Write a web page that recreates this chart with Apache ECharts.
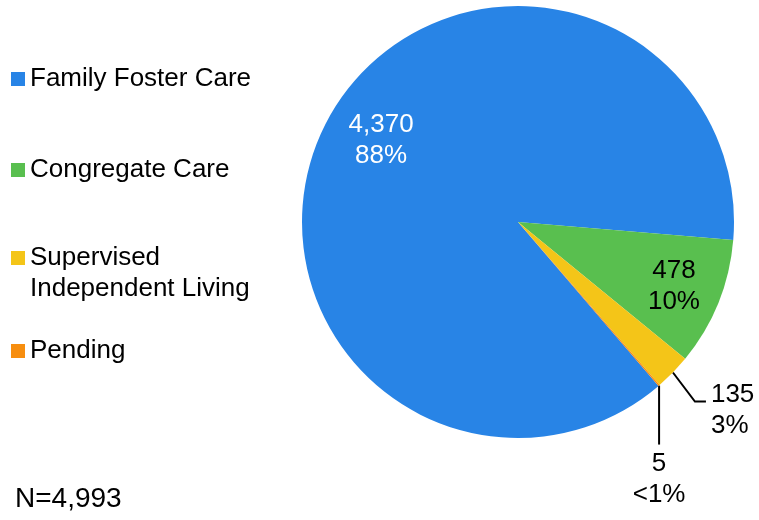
<!DOCTYPE html>
<html><head><meta charset="utf-8">
<script src="https://cdn.jsdelivr.net/npm/echarts@6/dist/echarts.min.js"></script>
<style>html,body{margin:0;padding:0;background:#fff}#c{width:759px;height:520px}</style>
</head><body><div id="c"></div>
<script>
const categories = ['Family Foster Care', 'Congregate Care', 'Supervised Independent Living', 'Pending'];
const values = [4370, 478, 135, 5];
const percentLabels = ['88%', '10%', '3%', '<1%'];
const legendLabels = ['Family Foster Care', 'Congregate Care', '\nSupervised\nIndependent Living', 'Pending'];
const colors = ['#2884e6', '#59bf4f', '#f4c518', '#f78e0f'];
const totalLabel = 'N=4,993';

const FONT = 'Liberation Sans, Arial, sans-serif';
const CENTER = [518, 222];
const R = 216;
const START = 310.6;

function fmt(p) {
  return Number(values[p.dataIndex]).toLocaleString('en-US') + '\n' + percentLabels[p.dataIndex];
}

const legendTops = [63.5, 154.5, 211.5, 335.5];
const legends = categories.map((c, i) => ({
  data: [c],
  orient: 'vertical',
  left: 11,
  top: legendTops[i],
  padding: 0,
  icon: 'rect',
  itemWidth: 14,
  itemHeight: 14,
  selectedMode: false,
  formatter: () => legendLabels[i],
  textStyle: { fontSize: 26, fontFamily: FONT, color: '#000', lineHeight: 31 }
}));

const chart = echarts.init(document.getElementById('c'), null, { renderer: 'canvas' });
chart.setOption({
  animation: false,
  backgroundColor: '#fff',
  title: {
    text: totalLabel, left: 15, top: 483, padding: 0,
    textStyle: { fontSize: 28, fontFamily: FONT, color: '#000', fontWeight: 'normal', lineHeight: 32 }
  },
  legend: legends,
  series: [
    {
      type: 'pie',
      center: CENTER,
      radius: R,
      startAngle: START,
      clockwise: true,
      silent: true,
      avoidLabelOverlap: false,
      itemStyle: { borderWidth: 0 },
      data: categories.map((n, i) => ({
        name: n, value: values[i],
        itemStyle: { color: colors[i] },
        label: { show: i >= 2 },
        labelLine: { show: i >= 2 }
      })),
      label: {
        position: 'outside', formatter: fmt, color: '#000',
        fontSize: 26, fontFamily: FONT, lineHeight: 31
      },
      labelLine: { length: 36, length2: 10, lineStyle: { color: '#000', width: 2 } },
      labelLayout: function (p) {
        const pts = p.labelLinePoints;
        if (!pts || !pts[0]) return {};
        const x0 = pts[0][0], y0 = pts[0][1];
        if (p.dataIndex === 2) {
          return {
            x: x0 + 38, y: y0 + 38, align: 'left', verticalAlign: 'middle',
            labelLinePoints: [[x0, y0], [x0 + 22, y0 + 29], [x0 + 33, y0 + 29]]
          };
        }
        if (p.dataIndex === 3) {
          return {
            x: x0, y: y0 + 94, align: 'center', verticalAlign: 'middle',
            labelLinePoints: [[x0, y0], [x0, y0 + 30], [x0, y0 + 59]]
          };
        }
        return {};
      }
    },
    {
      type: 'pie',
      center: CENTER,
      radius: [R / 2, R],
      startAngle: START,
      clockwise: true,
      silent: true,
      legendHoverLink: false,
      avoidLabelOverlap: false,
      itemStyle: { color: 'rgba(0,0,0,0)', borderWidth: 0 },
      data: categories.map((n, i) => ({
        name: n, value: values[i],
        label: { show: i < 2, color: i === 0 ? '#fff' : '#000' }
      })),
      label: {
        position: 'inside', formatter: fmt,
        fontSize: 26, fontFamily: FONT, lineHeight: 31
      },
      labelLine: { show: false },
      labelLayout: function (p) {
        if (p.dataIndex === 0) return { dx: 10, dy: -7 };
        if (p.dataIndex === 1) return { dx: 3, dy: 2 };
        return {};
      }
    }
  ]
});
</script>
</body></html>
